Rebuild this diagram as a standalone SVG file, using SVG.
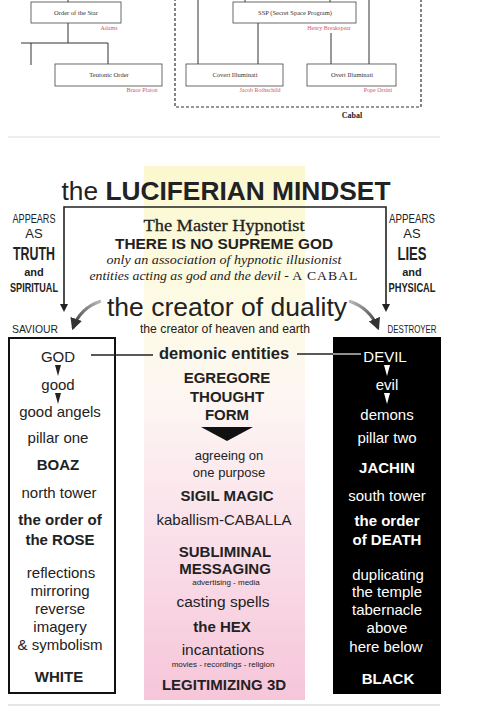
<svg xmlns="http://www.w3.org/2000/svg" width="480" height="717" viewBox="0 0 480 717">
<defs>
<linearGradient id="col" x1="0" y1="0" x2="0" y2="1">
<stop offset="0" stop-color="#fbf8cf"/>
<stop offset="0.3" stop-color="#fdfbe8"/>
<stop offset="0.45" stop-color="#fdf5f3"/>
<stop offset="0.75" stop-color="#f9dbe7"/>
<stop offset="1" stop-color="#f6c5d9"/>
</linearGradient>
<linearGradient id="fadeL" x1="1" y1="0" x2="0" y2="1">
<stop offset="0" stop-color="#bbb"/>
<stop offset="1" stop-color="#333"/>
</linearGradient>
<linearGradient id="fadeR" x1="0" y1="0" x2="1" y2="1">
<stop offset="0" stop-color="#bbb"/>
<stop offset="1" stop-color="#333"/>
</linearGradient>
<marker id="ahc" viewBox="0 0 10 10" refX="8" refY="5" markerWidth="4" markerHeight="4" orient="auto">
<path d="M0,0 L10,5 L0,10 z" fill="#333"/>
</marker>
</defs>
<style>
.tb{fill:#fff;stroke:#444;stroke-width:0.8}
.tl{stroke:#333;stroke-width:1;fill:none}
.st{font-family:"Liberation Serif",serif;font-size:6.5px;fill:#333;text-anchor:middle}
.rd{font-family:"Liberation Serif",serif;font-size:6px;fill:#d0566e;text-anchor:middle}
.s{font-family:"Liberation Sans",Arial,sans-serif;text-anchor:middle;fill:#222}
.n{font-family:"Liberation Sans Narrow","Liberation Sans",sans-serif;text-anchor:middle;fill:#222}
.c{font-size:15px}
.b{font-weight:bold}
.w{fill:#fff}
.sr{font-family:"Liberation Serif",serif;text-anchor:middle;fill:#222}
</style>
<rect width="480" height="717" fill="#fff"/>

<!-- top chart -->
<g id="top-lines">
<rect x="175" y="-5" width="246" height="112" fill="none" stroke="#333" stroke-width="1.2" stroke-dasharray="3,2"/>
<path class="tl" d="M68,-1 V2 M68,23 V43 M21,43 H108 M31,43 V65 M108,43 V64 M198,-1 V64 M258,23 V64 M331,33 V64 M369,-1 V64 M245,-1 V2 M330,-1 V2"/>
</g>
<g id="order-star"><rect class="tb" x="31" y="2" width="90" height="21"/><text class="st" x="76" y="15">Order of the Star</text><text class="rd" x="109" y="30">Adams</text></g>
<g id="teutonic"><rect class="tb" x="55" y="64" width="107" height="22"/><text class="st" x="109" y="77">Teutonic Order</text><text class="rd" x="142" y="92">Bruce Platon</text></g>
<g id="ssp"><rect class="tb" x="233" y="2" width="123" height="21"/><text class="st" x="295" y="15">SSP (Secret Space Program)</text><text class="rd" x="329" y="30">Henry Breakspear</text></g>
<g id="covert"><rect class="tb" x="186" y="64" width="97" height="22"/><text class="st" x="235" y="77">Covert Illuminati</text><text class="rd" x="260" y="92">Jacob Rothschild</text></g>
<g id="overt"><rect class="tb" x="307" y="64" width="89" height="22"/><text class="st" x="352" y="77">Overt Illuminati</text><text class="rd" x="378" y="92">Pope Orsini</text></g>
<text id="cabal" class="sr b" x="352" y="118" font-size="8">Cabal</text>

<line x1="8" y1="137" x2="440" y2="137" stroke="#ddd" stroke-width="1.2"/>

<!-- middle column background -->
<rect x="144" y="166" width="161" height="534" fill="url(#col)"/>

<text id="title" class="s" x="226" y="200" font-size="26" textLength="329" lengthAdjust="spacingAndGlyphs"><tspan>the </tspan><tspan font-weight="bold">LUCIFERIAN MINDSET</tspan></text>

<g id="label-left">
<text class="n" x="34" y="223" font-size="13" textLength="43" lengthAdjust="spacingAndGlyphs">APPEARS</text>
<text class="n" x="34" y="238" font-size="13">AS</text>
<text class="n b" x="34" y="260" font-size="18" textLength="42" lengthAdjust="spacingAndGlyphs">TRUTH</text>
<text class="n b" x="34" y="276" font-size="11">and</text>
<text class="n b" x="34" y="292" font-size="13" textLength="48" lengthAdjust="spacingAndGlyphs">SPIRITUAL</text>
<text class="n" x="35" y="333" font-size="11" textLength="46" lengthAdjust="spacingAndGlyphs">SAVIOUR</text>
</g>
<g id="label-right">
<text class="n" x="412" y="223" font-size="13" textLength="46" lengthAdjust="spacingAndGlyphs">APPEARS</text>
<text class="n" x="412" y="238" font-size="13">AS</text>
<text class="n b" x="412" y="260" font-size="18" textLength="29" lengthAdjust="spacingAndGlyphs">LIES</text>
<text class="n b" x="412" y="276" font-size="11">and</text>
<text class="n b" x="412" y="292" font-size="13" textLength="47" lengthAdjust="spacingAndGlyphs">PHYSICAL</text>
<text class="n" x="412" y="333" font-size="11" textLength="49" lengthAdjust="spacingAndGlyphs">DESTROYER</text>
</g>

<g id="hypnotist">
<text class="sr" x="224" y="231" font-size="17" stroke="#222" stroke-width="0.3" textLength="161" lengthAdjust="spacingAndGlyphs">The Master Hypnotist</text>
<text class="s b" x="224" y="249" font-size="15" textLength="218" lengthAdjust="spacingAndGlyphs">THERE IS NO SUPREME GOD</text>
<text class="sr" x="224" y="264" font-size="13.5" font-style="italic" fill="#333" textLength="235" lengthAdjust="spacingAndGlyphs">only an association of hypnotic illusionist</text>
<text class="sr" x="224" y="280" font-size="13.5" fill="#333" textLength="269" lengthAdjust="spacingAndGlyphs"><tspan font-style="italic">entities acting as god and the devil - </tspan><tspan letter-spacing="1">A CABAL</tspan></text>
</g>
<g id="duality">
<text class="s" x="227" y="316" font-size="26.5">the creator of duality</text>
<text class="s" x="225" y="333" font-size="12.2" fill="#333">the creator of heaven and earth</text>
</g>

<g id="left-column">
<rect x="9" y="338" width="106" height="355" fill="#fff" stroke="#111" stroke-width="2"/>
<text class="s c" x="58" y="362">GOD</text>
<text class="s c" x="58" y="390">good</text>
<text class="s c" x="60" y="417">good angels</text>
<text class="s c" x="58" y="443">pillar one</text>
<text class="s c b" x="58" y="470">BOAZ</text>
<text class="s c" x="59" y="498">north tower</text>
<text class="s c b" x="60" y="525">the order of</text>
<text class="s c b" x="60" y="545">the ROSE</text>
<text class="s c" x="61" y="578">reflections</text>
<text class="s c" x="60" y="596">mirroring</text>
<text class="s c" x="60" y="614">reverse</text>
<text class="s c" x="60" y="632">imagery</text>
<text class="s c" x="60" y="650">&amp; symbolism</text>
<text class="s c b" x="59" y="682">WHITE</text>
</g>

<g id="middle-column">
<text class="s b" x="224" y="359" font-size="16.5">demonic entities</text>
<text class="s c b" x="227" y="383">EGREGORE</text>
<text class="s c b" x="227" y="402">THOUGHT</text>
<text class="s c b" x="227" y="420">FORM</text>
<text class="s" x="229" y="460" font-size="13" fill="#333">agreeing on</text>
<text class="s" x="229" y="477" font-size="13" fill="#333">one purpose</text>
<text class="s c b" x="227" y="501">SIGIL MAGIC</text>
<text class="s c" x="224" y="525">kaballism-CABALLA</text>
<text class="s c b" x="225" y="557">SUBLIMINAL</text>
<text class="s c b" x="225" y="574">MESSAGING</text>
<text class="s" x="226" y="585" font-size="8" fill="#444">advertising - media</text>
<text class="s" x="223" y="607" font-size="15.5" fill="#333">casting spells</text>
<text class="s c b" x="222" y="632">the HEX</text>
<text class="s" x="223" y="655" font-size="15.5" fill="#333">incantations</text>
<text class="s" x="223" y="667" font-size="8" fill="#444">movies - recordings - religion</text>
<text class="s c b" x="224" y="690">LEGITIMIZING 3D</text>
</g>

<g id="right-column">
<rect x="333" y="337" width="108" height="357" fill="#000"/>
<text class="s c w" x="385" y="362">DEVIL</text>
<text class="s c w" x="387" y="390">evil</text>
<text class="s c w" x="387" y="420">demons</text>
<text class="s c w" x="387" y="443">pillar two</text>
<text class="s c b w" x="387" y="473">JACHIN</text>
<text class="s c w" x="387" y="501">south tower</text>
<text class="s c b w" x="387" y="526">the order</text>
<text class="s c b w" x="387" y="545">of DEATH</text>
<text class="s c w" x="388" y="580">duplicating</text>
<text class="s c w" x="387" y="597">the temple</text>
<text class="s c w" x="387" y="615">tabernacle</text>
<text class="s c w" x="387" y="633">above</text>
<text class="s c w" x="386" y="652">here below</text>
<text class="s c b w" x="388" y="684">BLACK</text>
</g>

<g id="connectors">
<path d="M64,310 V207 H386 V310" fill="none" stroke="#222" stroke-width="1.6"/>
<path d="M60,304 L64,312 L68,304 z" fill="#222"/>
<path d="M382,304 L386,312 L390,304 z" fill="#222"/>
<path d="M101,301 Q80,308 73,328" fill="none" stroke="url(#fadeL)" stroke-width="3" marker-end="url(#ahc)"/>
<path d="M349,301 Q370,308 378,328" fill="none" stroke="url(#fadeR)" stroke-width="3" marker-end="url(#ahc)"/>
<line x1="91" y1="355" x2="153" y2="355" stroke="#222" stroke-width="1.3"/>
<line x1="297" y1="354" x2="333" y2="354" stroke="#222" stroke-width="1.3"/>
<line x1="333" y1="354" x2="361" y2="354" stroke="#ddd" stroke-width="1.3"/>
<path d="M55,365 H61 L58,376 z M55,393 H61 L58,404 z" fill="#222"/>
<path d="M384,365 H390 L387,376 z M384,393 H390 L387,404 z" fill="#fff"/>
<path d="M201,427 H253 L227,441 z" fill="#111"/>
</g>

<line x1="8" y1="705" x2="440" y2="705" stroke="#ddd" stroke-width="1.5"/>
</svg>
